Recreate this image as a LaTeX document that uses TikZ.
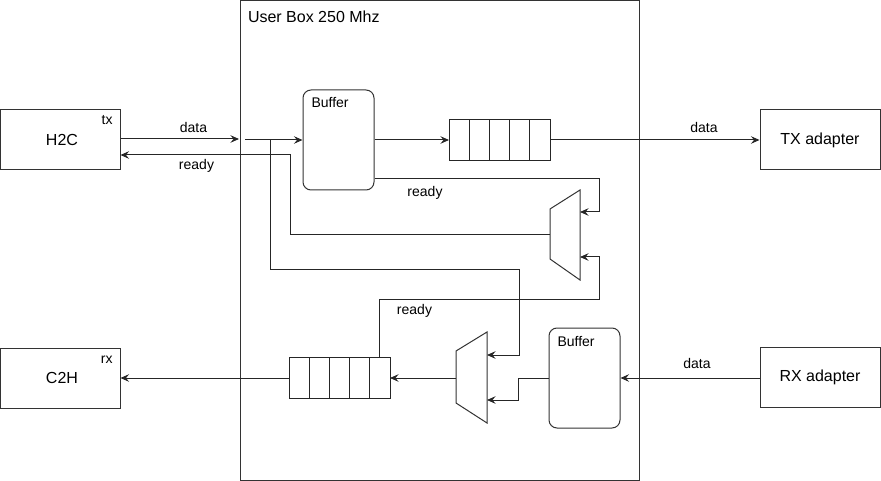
\documentclass[tikz,border=0pt]{standalone}
\usepackage{fontspec}
\setmainfont{Liberation Sans}
\usetikzlibrary{arrows.meta}
\begin{document}
\begin{tikzpicture}[x=1pt,y=-1pt,line width=1pt,line join=miter,
  box/.style={draw=black!80,minimum width=120pt,minimum height=60pt,inner sep=0pt,font=\fontsize{16}{19}\selectfont},
  buf/.style={draw=black!80,rounded corners=8pt,minimum width=71pt,minimum height=100pt,inner sep=0pt},
  lbl/.style={font=\fontsize{14}{17}\selectfont,inner sep=0pt},
  arr/.style={-{Stealth[length=8.5pt,width=7.5pt,inset=3pt]}},
  wire/.style={draw=black!85},
  cell/.style={draw=black!85,minimum width=20.2pt,minimum height=41pt,inner sep=0pt,outer sep=0pt},
  muxs/.style={draw=black!80}]
\useasboundingbox (0,0) rectangle (881,481);

% user box
\node[draw=black!80,anchor=north west,minimum width=399pt,minimum height=479pt,inner sep=0pt] (user) at (240,0.5) {};
\node[lbl,font=\fontsize{16}{19}\selectfont,anchor=base west] (usertitle) at (247.5,23) {User Box 250 Mhz};

% outer boxes
\node[box] (h2c) at (60,140) {\hspace*{4pt}H2C};
\node[lbl,anchor=base east] (tx) at (113,125) {tx};
\node[box] (c2h) at (60,378) {\hspace*{4pt}C2H};
\node[lbl,anchor=base east] (rx) at (113,363) {rx};
\node[box] (txa) at (820,140) {TX adapter};
\node[box] (rxa) at (820,377) {RX adapter};

% buffers
\node[buf] (buf1) at (338.5,140) {};
\node[lbl,anchor=base west] (buf1t) at (311,108) {Buffer};
\node[buf] (buf2) at (584.5,378) {};
\node[lbl,anchor=base west] (buf2t) at (557,346) {Buffer};

% queues
\foreach \i in {0,...,4} {
  \node[cell,anchor=west] (qa\i) at (449+\i*20.2,140) {};
  \node[cell,anchor=west] (qb\i) at (289+\i*20.2,378) {};
}

% muxes
\coordinate (m1a) at (550,209); \coordinate (m1b) at (580,190);
\coordinate (m1c) at (580,280); \coordinate (m1d) at (550,259);
\draw[muxs] (m1a) -- (m1b) -- (m1c) -- (m1d) -- cycle;
\coordinate (m2a) at (456,351); \coordinate (m2b) at (487,332);
\coordinate (m2c) at (487,423); \coordinate (m2d) at (456,403);
\draw[muxs] (m2a) -- (m2b) -- (m2c) -- (m2d) -- cycle;
\coordinate (m1in1) at (580,212); \coordinate (m1in2) at (580,257);
\coordinate (m1out) at (550,235);
\coordinate (m2in1) at (487,355); \coordinate (m2in2) at (487,400);
\coordinate (m2out) at (456,378);

% tx path
\coordinate (dataend) at (239,139);
\coordinate (datastart) at (245,140);
\coordinate (branch1) at (270,140);
\draw[wire,arr] (h2c.east |- dataend) -- (dataend);
\node[lbl,anchor=base] (lbldata1) at (193.5,133) {data};
\draw[wire,arr] (datastart) -- (buf1.west |- datastart);
\draw[wire,arr] (branch1) -- (270,269) -- (519,269) -- (519,355) -- (m2in1);
\draw[wire,arr] (m1out) -- (290,235) -- (290,155) -- (h2c.east |- 0,155);
\node[lbl,anchor=base] (lblready1) at (196.5,170) {ready};
\draw[wire,arr] (buf1.east) -- (qa0.west);
\draw[wire,arr] (qa4.east) -- (txa.west);
\node[lbl,anchor=base] (lbldata2) at (704,133) {data};
\draw[wire,arr] (buf1.east |- 0,179) -- (599,179) -- (599,212) -- (m1in1);
\node[lbl,anchor=base] (lblready2) at (425,197) {ready};

% rx path
\draw[wire,arr] (qb4.north) -- (qb4.north |- 0,299) -- (599,299) -- (599,257) -- (m1in2);
\node[lbl,anchor=base] (lblready3) at (414.5,314) {ready};
\draw[wire,arr] (rxa.west |- 0,378) -- (buf2.east);
\node[lbl,anchor=base] (lbldata3) at (697,368) {data};
\draw[wire,arr] (buf2.west) -- (518,378) -- (518,400) -- (m2in2);
\draw[wire,arr] (m2out) -- (qb4.east);
\draw[wire,arr] (qb0.west) -- (c2h.east);
\end{tikzpicture}
\end{document}
